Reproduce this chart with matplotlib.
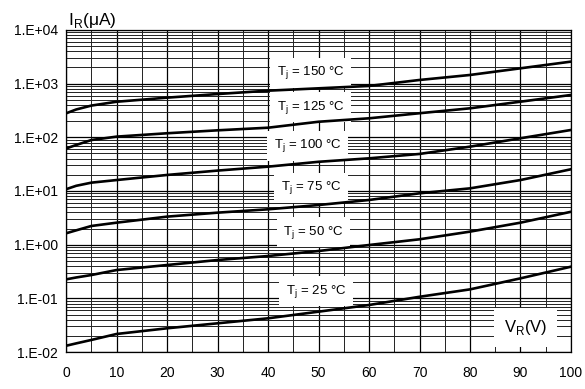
import numpy as np
import matplotlib.pyplot as plt
from matplotlib.ticker import FixedLocator, LogLocator, NullFormatter

plt.rcParams['font.family'] = ['Liberation Sans', 'DejaVu Sans']

# reverse voltage (V)
vr = [0, 2, 5, 10, 20, 30, 40, 50, 60, 70, 80, 90, 100]

# reverse current (uA) per junction temperature
ir_150 = [280, 330, 390, 460, 548, 640, 739, 818, 906, 1170, 1450, 1930, 2570]
ir_125 = [62, 72, 89, 103, 119, 135, 151, 195, 226, 281, 347, 461, 615]
ir_100 = [10.8, 12.5, 14.3, 16.0, 19.9, 24.0, 28.4, 35.0, 40.6, 49.0, 67.0, 96.0, 137.0]
ir_75 = [1.63, 1.85, 2.23, 2.57, 3.33, 3.95, 4.56, 5.48, 6.8, 9.06, 11.2, 16.0, 25.4]
ir_50 = [0.226, 0.245, 0.272, 0.337, 0.418, 0.518, 0.615, 0.762, 0.986, 1.26, 1.75, 2.57, 4.1]
ir_25 = [0.0131, 0.0145, 0.0168, 0.0217, 0.0277, 0.0343, 0.0425, 0.0565, 0.0752, 0.107, 0.147, 0.236, 0.389]

curves = [ir_150, ir_125, ir_100, ir_75, ir_50, ir_25]
labels = ["150", "125", "100", "75", "50", "25"]
label_x = [48.5, 48.5, 47.8, 48.5, 49.0, 49.5]
label_y = [1580, 367, 69, 11.4, 1.72, 0.137]

x_ticks = [0, 10, 20, 30, 40, 50, 60, 70, 80, 90, 100]
y_ticks = [1e-2, 1e-1, 1e0, 1e1, 1e2, 1e3, 1e4]
y_tick_labels = ["1.E-02", "1.E-01", "1.E+00", "1.E+01", "1.E+02", "1.E+03", "1.E+04"]

fig = plt.figure(figsize=(5.85, 3.89), dpi=100)
ax = fig.add_axes([0.113, 0.095, 0.863, 0.828])

ax.set_yscale('log')
ax.set_xlim(0, 100)
ax.set_ylim(1e-2, 1e4)

ax.set_xticks(x_ticks)
ax.xaxis.set_minor_locator(FixedLocator(np.arange(5, 100, 10)))
ax.set_yticks(y_ticks)
ax.set_yticklabels(y_tick_labels)
ax.yaxis.set_minor_locator(LogLocator(base=10, subs=np.arange(2, 10)))
ax.yaxis.set_minor_formatter(NullFormatter())
ax.tick_params(which='both', length=0, labelsize=10, colors='black')
ax.tick_params(axis='x', pad=10)
ax.tick_params(axis='y', pad=6)

ax.grid(True, which='major', color='black', lw=0.9, zorder=1)
ax.grid(True, which='minor', color='#222222', lw=0.7, zorder=1)
ax.set_axisbelow(True)
for s in ax.spines.values():
    s.set_linewidth(0.9)

for ys in curves:
    ax.plot(vr, ys, color='black', lw=1.9, zorder=4)

for lab, lx, ly in zip(labels, label_x, label_y):
    ax.text(lx, ly, r"T$_\mathregular{j}$ = " + lab + " °C", fontsize=9.5,
            ha='center', va='center', zorder=3,
            bbox=dict(boxstyle='square,pad=0.5', fc='white', ec='none'))

ax.text(91, 0.029, r"V$_\mathregular{R}$(V)", fontsize=12, ha='center', va='center',
        zorder=3, bbox=dict(boxstyle='square,pad=0.6', fc='white', ec='none'))

fig.text(0.116, 0.948, r"I$_\mathregular{R}$(μA)", fontsize=12.5, ha='left', va='center')

fig.savefig("out.png", dpi=100)
